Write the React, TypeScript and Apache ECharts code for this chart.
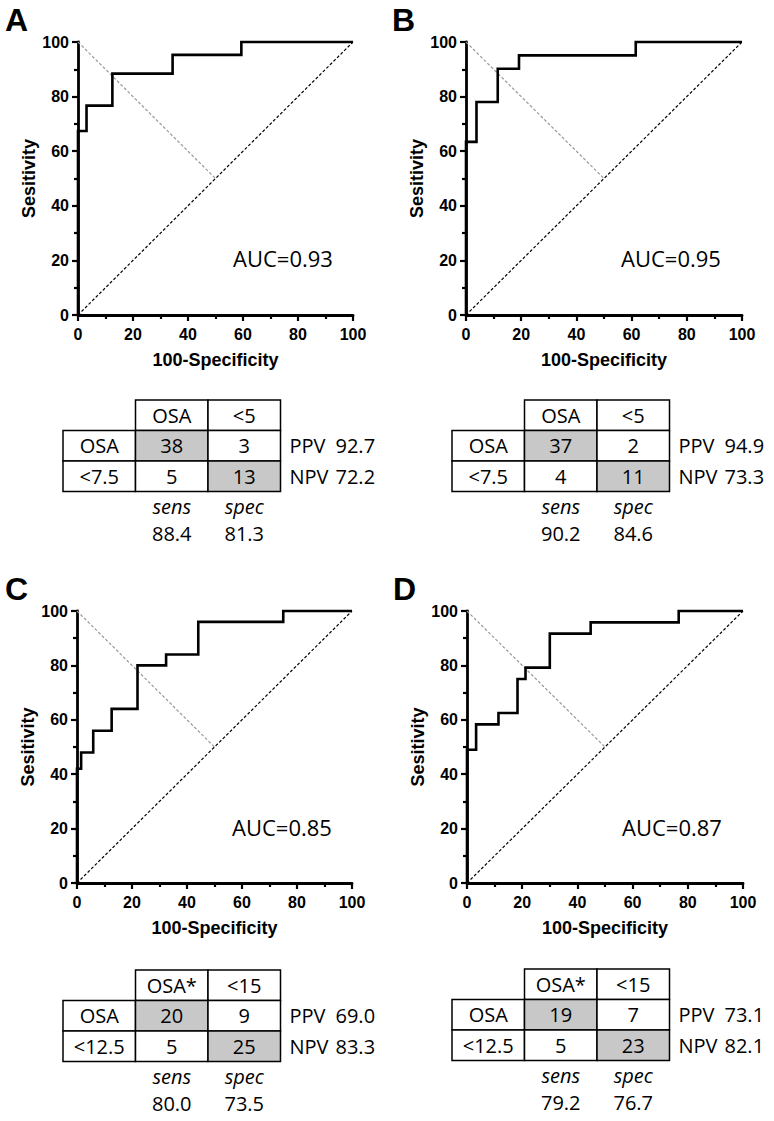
import React, { useEffect, useRef } from "react";
import * as echarts from "echarts";

// ---- Data ----
const panelLetters = ["A", "B", "C", "D"];
const aucLabels = ["AUC=0.93", "AUC=0.95", "AUC=0.85", "AUC=0.87"];

// ROC curves: 100-Specificity (x) and Sensitivity (y) at each step corner
const rocA_x = [0, 0, 3.1, 12.5, 34.4, 59.4, 100];
const rocA_y = [0, 67.4, 76.7, 88.4, 95.3, 100, 100];
const rocB_x = [0, 0, 3.8, 11.5, 19.2, 61.5, 100];
const rocB_y = [0, 63.4, 78.0, 90.2, 95.1, 100, 100];
const rocC_x = [0, 0, 1.5, 5.9, 12.6, 22.0, 32.4, 44.1, 75.0, 100];
const rocC_y = [0, 42.0, 48.0, 56.0, 64.0, 80.0, 84.0, 96.0, 100, 100];
const rocD_x = [0, 0, 3.3, 11.4, 18.3, 21.2, 30.0, 44.8, 76.7, 100];
const rocD_y = [0, 49.0, 58.3, 62.5, 75.0, 79.2, 91.7, 95.8, 100, 100];

const refDiagonal_x = [0, 100];
const refDiagonal_y = [0, 100];
const youden_x = [0, 50];
const youden_y = [100, 50];

const axisTicks = [0, 20, 40, 60, 80, 100];

// 2x2 tables
const colHeaders = [["OSA", "<5"], ["OSA", "<5"], ["OSA*", "<15"], ["OSA*", "<15"]];
const rowHeaders = [["OSA", "<7.5"], ["OSA", "<7.5"], ["OSA", "<12.5"], ["OSA", "<12.5"]];
const cellsA = [[38, 3], [5, 13]];
const cellsB = [[37, 2], [4, 11]];
const cellsC = [[20, 9], [5, 25]];
const cellsD = [[19, 7], [5, 23]];
const ppvValues = ["92.7", "94.9", "69.0", "73.1"];
const npvValues = ["72.2", "73.3", "83.3", "82.1"];
const sensValues = ["88.4", "90.2", "80.0", "79.2"];
const specValues = ["81.3", "84.6", "73.5", "76.7"];

// ---- Layout ----
const grids = [
  { left: 78, top: 42, width: 275, height: 273 },
  { left: 466, top: 42, width: 276, height: 273 },
  { left: 77, top: 611, width: 275, height: 272 },
  { left: 467, top: 611, width: 276, height: 272 },
];
const letterPos = [[5, 20], [392, 20], [5, 589], [393, 589]];
const tablePos = [[63, 400], [452, 400], [63, 970], [452, 969]];
const COLW = 72.5;
const ROWH = 30.5;

const BOLD = "'Liberation Sans', Arial, sans-serif";
const TXT = "'Open Sans', 'Noto Sans', sans-serif";
const TFS = 20;

function zip(xs: number[], ys: number[]) {
  return xs.map((x, i) => [x, ys[i]]);
}

export default function App() {
  const ref = useRef<HTMLDivElement>(null);
  useEffect(() => {
    document.body.style.margin = "0";
    const chart = echarts.init(ref.current!, undefined, { renderer: "svg" });
    const rocs = [
      zip(rocA_x, rocA_y),
      zip(rocB_x, rocB_y),
      zip(rocC_x, rocC_y),
      zip(rocD_x, rocD_y),
    ];
    const cells = [cellsA, cellsB, cellsC, cellsD];

    const axisCommon = {
      type: "value",
      min: 0,
      max: 100,
      interval: 20,
      nameLocation: "middle",
      nameGap: 36,
      nameTextStyle: { fontFamily: BOLD, fontWeight: "bold", fontSize: 18, color: "#000" },
      axisLine: { show: true, onZero: false, lineStyle: { color: "#000", width: 2.8 } },
      axisTick: { show: true, length: 6, lineStyle: { color: "#000", width: 2.2 } },
      minorTick: { show: true, splitNumber: 2, length: 4, lineStyle: { color: "#000", width: 2.2 } },
      splitLine: { show: false },
      minorSplitLine: { show: false },
    };

    const xAxes = grids.map((_, i) => ({
      ...axisCommon,
      gridIndex: i,
      name: "100-Specificity",
      axisLabel: {
        fontFamily: BOLD, fontWeight: "bold", fontSize: 16, color: "#000", margin: 11,
        formatter: (v: number) => (axisTicks.includes(v) ? String(v) : ""),
      },
    }));
    const yAxes = grids.map((_, i) => ({
      ...axisCommon,
      gridIndex: i,
      name: "Sesitivity",
      nameGap: 38,
      axisLabel: {
        fontFamily: BOLD, fontWeight: "bold", fontSize: 16, color: "#000", margin: 9,
        formatter: (v: number) => (axisTicks.includes(v) ? String(v) : ""),
      },
    }));

    const series: any[] = [];
    grids.forEach((_, i) => {
      series.push({
        type: "line", xAxisIndex: i, yAxisIndex: i, symbol: "none", silent: true,
        data: zip(refDiagonal_x, refDiagonal_y), z: 2,
        lineStyle: { color: "#000", width: 1.2, type: [3, 2] },
      });
      series.push({
        type: "line", xAxisIndex: i, yAxisIndex: i, symbol: "none", silent: true,
        data: zip(youden_x, youden_y), z: 2,
        lineStyle: { color: "#999", width: 1.2, type: [3, 2] },
      });
      series.push({
        type: "line", xAxisIndex: i, yAxisIndex: i, symbol: "none", silent: true,
        step: "end", clip: false, data: rocs[i], z: 3,
        lineStyle: { color: "#000", width: 2.6, join: "miter" },
      });
    });

    const graphic: any[] = [];
    grids.forEach((g, i) => {
      graphic.push({
        type: "text", x: letterPos[i][0], y: letterPos[i][1],
        style: { text: panelLetters[i], font: `bold 32px ${BOLD}`, fill: "#000", verticalAlign: "middle", align: "left" },
      });
      graphic.push({
        type: "text", x: g.left + 155, y: g.top + 216,
        style: { text: aucLabels[i], font: `22px ${TXT}`, fill: "#000", verticalAlign: "middle", align: "left" },
      });
      const [tl, tt] = tablePos[i];
      const textStyle = (t: string, x: number, y: number, extra = "") => ({
        type: "text", x, y, z: 10,
        style: { text: t, font: `${extra}${TFS}px ${TXT}`, fill: "#000", align: "center", verticalAlign: "middle" },
      });
      // header row (cols 1..2)
      for (let c = 0; c < 2; c++) {
        const x = tl + COLW * (c + 1);
        graphic.push({
          type: "rect", z: 5, shape: { x, y: tt, width: COLW, height: ROWH },
          style: { fill: "#fff", stroke: "#000", lineWidth: 1.5 },
        });
        graphic.push(textStyle(colHeaders[i][c], x + COLW / 2, tt + ROWH / 2));
      }
      // body rows
      for (let r = 0; r < 2; r++) {
        const y = tt + ROWH * (r + 1);
        for (let c = 0; c < 3; c++) {
          const x = tl + COLW * c;
          const grey = c >= 1 && c - 1 === r;
          graphic.push({
            type: "rect", z: 5, shape: { x, y, width: COLW, height: ROWH },
            style: { fill: grey ? "#c8c8c8" : "#fff", stroke: "#000", lineWidth: 1.5 },
          });
          const t = c === 0 ? rowHeaders[i][r] : String(cells[i][r][c - 1]);
          graphic.push(textStyle(t, x + COLW / 2, y + ROWH / 2));
        }
        const lab = r === 0 ? "PPV" : "NPV";
        const val = r === 0 ? ppvValues[i] : npvValues[i];
        graphic.push({
          type: "text", x: tl + COLW * 3 + 9, y: y + ROWH / 2, z: 10,
          style: { text: lab, font: `${TFS}px ${TXT}`, fill: "#000", align: "left", verticalAlign: "middle" },
        });
        graphic.push({
          type: "text", x: tl + COLW * 3 + 55, y: y + ROWH / 2, z: 10,
          style: { text: val, font: `${TFS}px ${TXT}`, fill: "#000", align: "left", verticalAlign: "middle" },
        });
      }
      graphic.push(textStyle("sens", tl + COLW * 1.5, tt + 106, "italic "));
      graphic.push(textStyle("spec", tl + COLW * 2.5, tt + 106, "italic "));
      graphic.push(textStyle(sensValues[i], tl + COLW * 1.5, tt + 133));
      graphic.push(textStyle(specValues[i], tl + COLW * 2.5, tt + 133));
    });

    chart.setOption({
      animation: false,
      backgroundColor: "#fff",
      grid: grids.map((g) => ({ ...g, containLabel: false })),
      xAxis: xAxes,
      yAxis: yAxes,
      series,
      graphic,
    });
    return () => chart.dispose();
  }, []);
  return (
    <div
      ref={ref}
      style={{ position: "absolute", left: 0, top: 0, width: 774, height: 1121 }}
    />
  );
}
